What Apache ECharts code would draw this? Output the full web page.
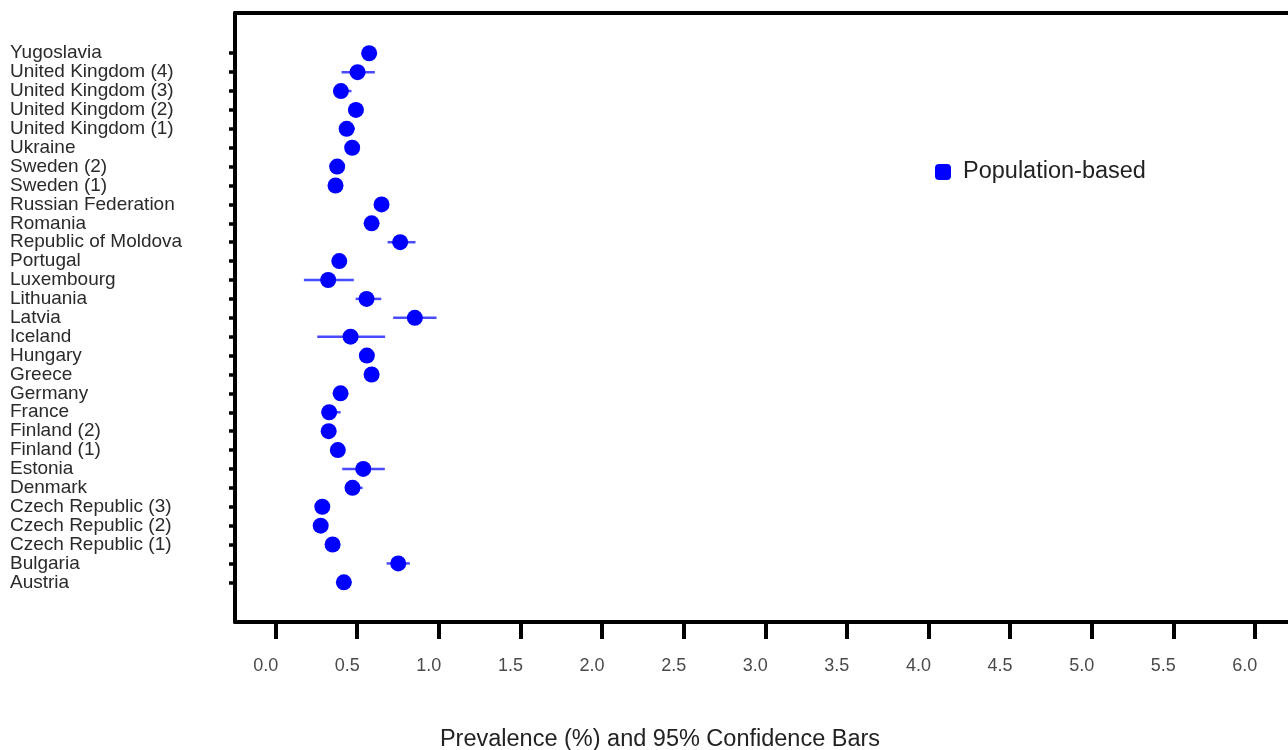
<!DOCTYPE html>
<html>
<head>
<meta charset="utf-8">
<script src="https://cdn.jsdelivr.net/npm/echarts@6/dist/echarts.min.js"></script>
<style>
  html, body { margin: 0; padding: 0; background: #ffffff; }
  #chart { width: 1288px; height: 750px; }
</style>
</head>
<body>
<div id="chart"></div>
<script>
// Categories, top to bottom as shown
var categories = [
  'Yugoslavia', 'United Kingdom (4)', 'United Kingdom (3)', 'United Kingdom (2)',
  'United Kingdom (1)', 'Ukraine', 'Sweden (2)', 'Sweden (1)', 'Russian Federation',
  'Romania', 'Republic of Moldova', 'Portugal', 'Luxembourg', 'Lithuania', 'Latvia',
  'Iceland', 'Hungary', 'Greece', 'Germany', 'France', 'Finland (2)', 'Finland (1)',
  'Estonia', 'Denmark', 'Czech Republic (3)', 'Czech Republic (2)', 'Czech Republic (1)',
  'Bulgaria', 'Austria'
];
// Prevalence (%) estimates
var prevalence = [
  0.573, 0.502, 0.400, 0.492, 0.435, 0.469, 0.377, 0.367, 0.649, 0.588,
  0.763, 0.390, 0.322, 0.557, 0.853, 0.459, 0.559, 0.588, 0.398, 0.328,
  0.325, 0.381, 0.537, 0.471, 0.286, 0.276, 0.349, 0.751, 0.418
];
// 95% confidence bounds
var ciLow = [
  0.550, 0.404, 0.360, 0.465, 0.400, 0.445, 0.355, 0.345, 0.625, 0.565,
  0.686, 0.365, 0.173, 0.490, 0.720, 0.255, 0.535, 0.565, 0.375, 0.285,
  0.305, 0.360, 0.408, 0.445, 0.265, 0.255, 0.325, 0.680, 0.395
];
var ciHigh = [
  0.595, 0.608, 0.465, 0.515, 0.486, 0.490, 0.400, 0.390, 0.672, 0.610,
  0.857, 0.412, 0.479, 0.647, 0.986, 0.671, 0.580, 0.610, 0.420, 0.398,
  0.345, 0.402, 0.669, 0.533, 0.305, 0.298, 0.372, 0.822, 0.440
];
var xTicks = [0, 0.5, 1, 1.5, 2, 2.5, 3, 3.5, 4, 4.5, 5, 5.5, 6];
var seriesName = 'Population-based';

var yTicks = categories.map(function (c, i) { return i; });
var pointData = prevalence.map(function (v, i) { return [v, i]; });
var barData = prevalence.map(function (v, i) { return [ciLow[i], ciHigh[i], i]; });

var FONT = "'Liberation Sans', Arial, Helvetica, sans-serif";
var X_MIN = -0.249, X_MAX = 6.203;
var chart = echarts.init(document.getElementById('chart'));
chart.setOption({
  animation: false,
  backgroundColor: '#ffffff',
  grid: { left: 235, top: 13, right: 0, bottom: 128, show: false },
  legend: {
    data: [seriesName],
    left: 930, top: 155,
    icon: 'roundRect',
    itemWidth: 16, itemHeight: 16,
    textStyle: { fontFamily: FONT, fontSize: 23.5, color: '#222222', padding: [0, 0, 0, 7] }
  },
  xAxis: [{
    type: 'value',
    min: X_MIN, max: X_MAX,
    splitLine: { show: false },
    axisLine: { show: true, onZero: false, lineStyle: { color: '#000000', width: 4 } },
    axisTick: { show: true, customValues: xTicks, length: 17, inside: false,
      lineStyle: { color: '#000000', width: 4 } },
    axisLabel: {
      customValues: xTicks,
      margin: 35,
      padding: [0, 20, 0, 0],
      fontFamily: FONT, fontSize: 18, color: '#4a4a4a',
      formatter: function (v) { return v.toFixed(1); }
    }
  }, {
    type: 'value',
    position: 'top',
    min: X_MIN, max: X_MAX,
    splitLine: { show: false },
    axisLine: { show: true, onZero: false, lineStyle: { color: '#000000', width: 4 } },
    axisTick: { show: false },
    axisLabel: { show: false }
  }],
  yAxis: {
    type: 'value',
    inverse: true,
    min: -2.13, max: 30.10,
    splitLine: { show: false },
    axisLine: { show: true, onZero: false, lineStyle: { color: '#000000', width: 4 } },
    axisTick: { show: true, customValues: yTicks, length: 6,
      lineStyle: { color: '#000000', width: 3.5 } },
    axisLabel: {
      customValues: yTicks,
      align: 'left',
      margin: 225,
      fontFamily: FONT, fontSize: 19, color: '#2a2a2a',
      formatter: function (v) { return categories[Math.round(v)] || ''; }
    }
  },
  graphic: [{
    type: 'text',
    x: 660, y: 740,
    style: {
      text: 'Prevalence (%) and 95% Confidence Bars',
      fontFamily: FONT, fontSize: 23.5, fill: '#222222',
      textAlign: 'center', textVerticalAlign: 'middle'
    }
  }],
  series: [
    {
      name: 'CI',
      type: 'custom',
      data: barData,
      encode: { x: [0, 1], y: 2 },
      renderItem: function (params, api) {
        var p1 = api.coord([api.value(0), api.value(2)]);
        var p2 = api.coord([api.value(1), api.value(2)]);
        return {
          type: 'line',
          shape: { x1: p1[0], y1: p1[1], x2: p2[0], y2: p2[1] },
          style: { stroke: '#4a4aff', lineWidth: 2.5 }
        };
      },
      z: 2
    },
    {
      name: seriesName,
      type: 'scatter',
      data: pointData,
      symbol: 'circle',
      symbolSize: 16,
      itemStyle: { color: '#0000ff', opacity: 1 },
      z: 3
    }
  ]
});
</script>
</body>
</html>
